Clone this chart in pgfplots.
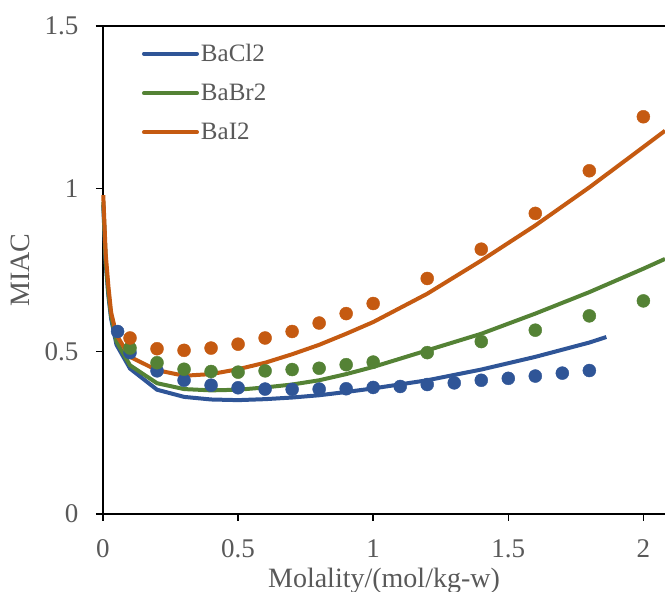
\documentclass[border=0pt]{standalone}
\usepackage{fontspec}
\setmainfont{Liberation Serif}
\usepackage{pgfplots}
\pgfplotsset{compat=1.18}
\definecolor{cBlue}{HTML}{2F5597}
\definecolor{cGreen}{HTML}{548235}
\definecolor{cOrange}{HTML}{C55A11}
\definecolor{cText}{HTML}{595959}
\begin{document}
\begin{tikzpicture}
\begin{axis}[
  scale only axis,
  width=562pt, height=488pt,
  xmin=0, xmax=2.08, ymin=0, ymax=1.5,
  axis x line*=bottom, axis y line*=left,
  axis line style={black, line width=1.5pt},
  xtick={0,0.5,1,1.5,2}, ytick={0,0.5,1,1.5},
  tick align=outside,
  major tick length=7pt,
  tick style={black, line width=1.5pt},
  extra y ticks={1.5}, extra y tick labels={},
  extra y tick style={grid=major, major grid style={black, line width=1.5pt}},
  /pgf/number format/assume math mode=true,
  ticklabel style={font=\fontsize{27}{32}\selectfont, text=cText},
  xticklabel style={yshift=-15pt},
  yticklabel style={xshift=-14pt},
  label style={font=\fontsize{28}{33}\selectfont, text=cText},
  xlabel={Molality/(mol/kg-w)},
  ylabel={MIAC},
  xlabel style={yshift=-3pt},
  ylabel style={yshift=-6pt},
  clip=false,
  legend cell align=left,
  legend style={draw=none, fill=none, at={(0.069,0.967)}, anchor=north west,
    font=\fontsize{25}{30}\selectfont, text=cText, row sep=17pt, inner sep=0pt},
  legend image code/.code={\draw[#1, line width=4pt, line cap=round] (0pt,0pt) -- (53pt,0pt);},
]
\addplot[cBlue, line width=4pt, mark=none] coordinates {
(0.001,0.95)(0.01,0.77)(0.02,0.67)(0.03,0.60)(0.05,0.52)(0.1,0.447)(0.2,0.382)(0.3,0.36)(0.4,0.352)(0.5,0.35)(0.6,0.353)(0.7,0.358)(0.8,0.365)(0.9,0.375)(1.0,0.386)(1.2,0.411)(1.4,0.444)(1.6,0.483)(1.8,0.527)(1.863,0.544)};
\addlegendentry{BaCl2}
\addplot[cGreen, line width=4pt, mark=none] coordinates {
(0.001,0.96)(0.01,0.78)(0.02,0.68)(0.03,0.61)(0.05,0.53)(0.1,0.457)(0.2,0.402)(0.3,0.384)(0.4,0.380)(0.5,0.382)(0.6,0.389)(0.7,0.398)(0.8,0.411)(0.9,0.43)(1.0,0.452)(1.2,0.503)(1.4,0.554)(1.6,0.616)(1.8,0.682)(2.0,0.754)(2.08,0.784)};
\addlegendentry{BaBr2}
\addplot[cOrange, line width=4pt, mark=none] coordinates {
(0.001,0.98)(0.01,0.80)(0.02,0.70)(0.03,0.62)(0.05,0.55)(0.1,0.483)(0.2,0.442)(0.3,0.425)(0.4,0.43)(0.5,0.445)(0.6,0.465)(0.7,0.491)(0.8,0.52)(0.9,0.554)(1.0,0.59)(1.2,0.677)(1.4,0.779)(1.6,0.887)(1.8,1.004)(2.0,1.128)(2.08,1.178)};
\addlegendentry{BaI2}
\addplot[only marks, mark=*, mark size=6.5pt, cBlue, mark options={draw=none, fill=cBlue}, forget plot] coordinates {
(0.054,0.561)(0.1,0.496)(0.2,0.44)(0.3,0.411)(0.4,0.396)(0.5,0.388)(0.6,0.384)(0.7,0.383)(0.8,0.384)(0.9,0.385)(1.0,0.389)(1.1,0.392)(1.2,0.398)(1.3,0.403)(1.4,0.411)(1.5,0.417)(1.6,0.424)(1.7,0.433)(1.8,0.441)};
\addplot[only marks, mark=*, mark size=6.5pt, cGreen, mark options={draw=none, fill=cGreen}, forget plot] coordinates {
(0.1,0.510)(0.2,0.465)(0.3,0.445)(0.4,0.438)(0.5,0.436)(0.6,0.440)(0.7,0.444)(0.8,0.448)(0.9,0.459)(1.0,0.467)(1.2,0.496)(1.4,0.530)(1.6,0.565)(1.8,0.609)(2.0,0.655)};
\addplot[only marks, mark=*, mark size=6.5pt, cOrange, mark options={draw=none, fill=cOrange}, forget plot] coordinates {
(0.1,0.541)(0.2,0.508)(0.3,0.503)(0.4,0.510)(0.5,0.522)(0.6,0.541)(0.7,0.561)(0.8,0.587)(0.9,0.616)(1.0,0.647)(1.2,0.724)(1.4,0.814)(1.6,0.924)(1.8,1.055)(2.0,1.221)};
\end{axis}
\pgfresetboundingbox
\path ([xshift=-103pt,yshift=-78pt]current axis.south west) rectangle ++(665pt,592pt);
\end{tikzpicture}
\end{document}
